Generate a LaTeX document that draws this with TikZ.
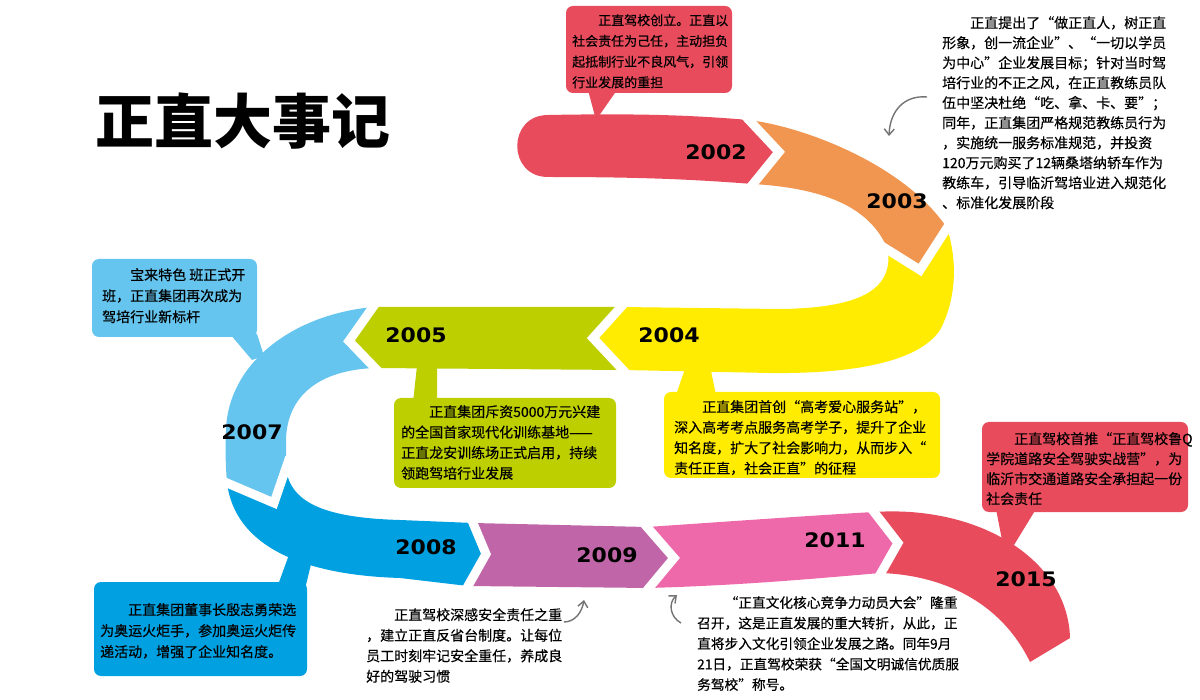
\documentclass[tikz,border=0pt]{standalone}
\usepackage{fontspec}
\setmainfont{Noto Sans CJK SC}
\newfontfamily\bodyfont{Noto Sans CJK SC}[FakeBold=0.35]
\newfontfamily\yearfont{DejaVu Sans}[FakeStretch=1.1]
\usetikzlibrary{calc,arrows.meta}
\definecolor{cred}{RGB}{232,76,92}
\definecolor{corange}{RGB}{240,150,80}
\definecolor{cyellow}{RGB}{255,236,0}
\definecolor{cgreen}{RGB}{190,207,0}
\definecolor{clblue}{RGB}{102,197,238}
\definecolor{cblue}{RGB}{0,160,225}
\definecolor{cpurple}{RGB}{192,102,168}
\definecolor{cpink}{RGB}{238,105,170}
\begin{document}
\begin{tikzpicture}[x=1pt,y=-1pt,
  sepline/.style={draw=white,line width=9pt,line join=miter,line cap=butt},
  boxshape/.style={rounded corners=7pt},
  para/.style={anchor=north west,inner sep=0pt,align=left},
  yr/.style={font=\yearfont\bfseries\fontsize{20}{20}\selectfont,inner sep=0pt},
  garrow/.style={draw=black!55,line width=1.4pt,-{Straight Barb[length=6pt,width=10pt]}}]
\fill[white] (0,0) rectangle (1200,700);
\useasboundingbox (0,0) rectangle (1200,700);
% joints
\coordinate (j1o) at (749,120); \coordinate (j1t) at (779,152); \coordinate (j1i) at (753,184);
\coordinate (j2o) at (947,228); \coordinate (j2t) at (920,270); \coordinate (j2i) at (888,250);
\coordinate (j3o) at (621,307); \coordinate (j3t) at (593,338); \coordinate (j3i) at (623,370);
\coordinate (j4o) at (373,307); \coordinate (j4t) at (349,341); \coordinate (j4i) at (375,368);
\coordinate (j5o) at (227,483); \coordinate (j5t) at (274,503); \coordinate (j5i) at (286,468);
\coordinate (j6o) at (473,523); \coordinate (j6t) at (486,554); \coordinate (j6i) at (468,586);
\coordinate (j7o) at (647,527); \coordinate (j7t) at (674,558); \coordinate (j7i) at (649,588);
\coordinate (j8o) at (874,512); \coordinate (j8t) at (898,543); \coordinate (j8i) at (881,573);
% segments
\fill[cred] (548,115) .. controls (650,113) and (700,116) .. (j1o) -- (j1t) -- (j1i)
  .. controls (700,180) and (650,177) .. (548,177) .. controls (507,177) and (507,115) .. (548,115) -- cycle;
\fill[corange] (j1o) .. controls (805,127) and (905,165) .. (j2o) -- (j2t) -- (j2i)
  .. controls (870,205) and (820,188) .. (j1i) -- (j1t) -- cycle;
\fill[cyellow] (j2o) -- (j2t) -- (j2i) .. controls (893,290) and (860,308) .. (780,309) -- (j3o) -- (j3t) -- (j3i)
  -- (770,373) .. controls (860,374) and (920,360) .. (940,330) .. controls (956,300) and (958,262) .. (j2o) -- cycle;
\fill[cgreen] (j3o) -- (j3t) -- (j3i) -- (j4i) -- (j4t) -- (j4o) -- cycle;
\fill[clblue] (j4o) -- (j4t) -- (j4i) .. controls (320,370) and (287,395) .. (286,440) -- (j5i) -- (j5t) -- (j5o)
  .. controls (226,470) and (225,455) .. (226,430) .. controls (228,365) and (290,315) .. (j4o) -- cycle;
\fill[cblue] (j5o) -- (j5t) -- (j5i) .. controls (290,505) and (330,518) .. (400,520) -- (j6o) -- (j6t) -- (j6i)
  -- (400,578) .. controls (300,575) and (235,545) .. (j5o) -- cycle;
\fill[cpurple] (j6o) -- (j6t) -- (j6i) -- (j7i) -- (j7t) -- (j7o) -- cycle;
\fill[cpink] (j7o) -- (j7t) -- (j7i) .. controls (750,585) and (820,578) .. (j8i) -- (j8t) -- (j8o)
  .. controls (820,515) and (750,520) .. (j7o) -- cycle;
\fill[cred] (j8o) -- (j8t) -- (j8i) .. controls (940,575) and (1000,600) .. (1030,662) -- (1070,638)
  .. controls (1068,560) and (980,505) .. (j8o) -- cycle;
% separators
\foreach \j in {1,...,8}
  \draw[sepline] ($(j\j t)!1.3!(j\j o)$) -- (j\j t) -- ($(j\j t)!1.3!(j\j i)$);
% callout boxes
\fill[cred,boxshape] (566,6) rectangle (732,93);
\fill[cred] (588,90) -- (617,90) -- (596,120) -- cycle;
\fill[clblue,boxshape] (92,259) rectangle (257,337);
\fill[clblue] (230,334) -- (257,334) -- (264,356) -- (252,360) -- cycle;
\fill[cgreen,boxshape] (394,398) rectangle (616,488);
\fill[cgreen] (417,366) -- (437,366) -- (437,402) -- (413,402) -- cycle;
\fill[cyellow,boxshape] (664,392) rectangle (940,478);
\fill[cyellow] (686,366) -- (710,366) -- (716,395) -- (676,395) -- cycle;
\fill[cred,boxshape] (982,422) rectangle (1188,512);
\fill[cred] (996,509) -- (1036,509) -- (1014,545) -- (1002,540) -- cycle;
\fill[cblue,boxshape] (94,582) rectangle (307,676);
\fill[cblue] (278,585) -- (306,585) -- (312,560) -- (290,552) -- cycle;
% title
\node[inner sep=0pt,font=\bfseries\fontsize{59}{59}\selectfont] (title) at (243,121) {正直大事记};
% years
\node[yr] (y2002) at (716,152) {2002};
\node[yr] (y2003) at (897,201) {2003};
\node[yr] (y2004) at (669,335) {2004};
\node[yr] (y2005) at (416,335) {2005};
\node[yr] (y2007) at (252,432) {2007};
\node[yr] (y2008) at (426,547) {2008};
\node[yr] (y2009) at (607,555) {2009};
\node[yr] (y2011) at (835,540) {2011};
\node[yr] (y2015) at (1026,579) {2015};
% texts
\node[para,font=\bodyfont\fontsize{13}{20.7}\selectfont] (t2002) at (572,14)
 {\hspace*{2em}正直驾校创立。正直以\\社会责任为己任，主动担负\\起抵制行业不良风气，引领\\行业发展的重担};
\node[para,font=\bodyfont\fontsize{14}{20}\selectfont] (t2003) at (942,16)
 {\hspace*{2em}正直提出了“做正直人，树正直\\形象，创一流企业”、“一切以学员\\为中心”企业发展目标；针对当时驾\\培行业的不正之风，在正直教练员队\\伍中坚决杜绝“吃、拿、卡、要”；\\同年，正直集团严格规范教练员行为\\，实施统一服务标准规范，并投资\\120万元购买了12辆桑塔纳轿车作为\\教练车，引导临沂驾培业进入规范化\\、标准化发展阶段};
\node[para,font=\bodyfont\fontsize{14}{21}\selectfont] (t2007) at (102,268)
 {\hspace*{2em}宝来特色 班正式开\\班，正直集团再次成为\\驾培行业新标杆};
\node[para,font=\bodyfont\fontsize{14}{20.5}\selectfont] (t2005) at (401,405)
 {\hspace*{2em}正直集团斥资5000万元兴建\\的全国首家现代化训练基地——\\正直龙安训练场正式启用，持续\\领跑驾培行业发展};
\node[para,font=\bodyfont\fontsize{14}{20.5}\selectfont] (t2004) at (674,400)
 {\hspace*{2em}正直集团首创“高考爱心服务站”，\\深入高考考点服务高考学子，提升了企业\\知名度，扩大了社会影响力，从而步入“\\责任正直，社会正直”的征程};
\node[para,font=\bodyfont\fontsize{14}{20}\selectfont] (t2015) at (986,432)
 {\hspace*{2em}正直驾校首推“正直驾校鲁Q\\学院道路安全驾驶实战营”，为\\临沂市交通道路安全承担起一份\\社会责任};
\node[para,font=\bodyfont\fontsize{14}{21}\selectfont] (t2008) at (100,603)
 {\hspace*{2em}正直集团董事长殷志勇荣选\\为奥运火炬手，参加奥运火炬传\\递活动，增强了企业知名度。};
\node[para,font=\bodyfont\fontsize{14}{20.5}\selectfont] (t2009) at (366,608)
 {\hspace*{2em}正直驾校深感安全责任之重\\，建立正直反省台制度。让每位\\员工时刻牢记安全重任，养成良\\好的驾驶习惯};
\node[para,font=\bodyfont\fontsize{13.7}{20.5}\selectfont] (t2011) at (697,596)
 {\hspace*{2em}“正直文化核心竞争力动员大会”隆重\\召开，这是正直发展的重大转折，从此，正\\直将步入文化引领企业发展之路。同年9月\\21日，正直驾校荣获“全国文明诚信优质服\\务驾校”称号。};
% hand arrows
\coordinate (a1s) at (927,97); \coordinate (a1e) at (889,136);
\draw[garrow] (a1s) .. controls (905,95) and (890,110) .. (a1e);
\coordinate (a2s) at (564,622); \coordinate (a2e) at (584,600);
\draw[garrow] (a2s) .. controls (575,622) and (582,612) .. (a2e);
\coordinate (a3s) at (681,623); \coordinate (a3e) at (677,595);
\draw[garrow] (a3s) .. controls (670,617) and (668,603) .. (a3e);
\end{tikzpicture}
\end{document}
